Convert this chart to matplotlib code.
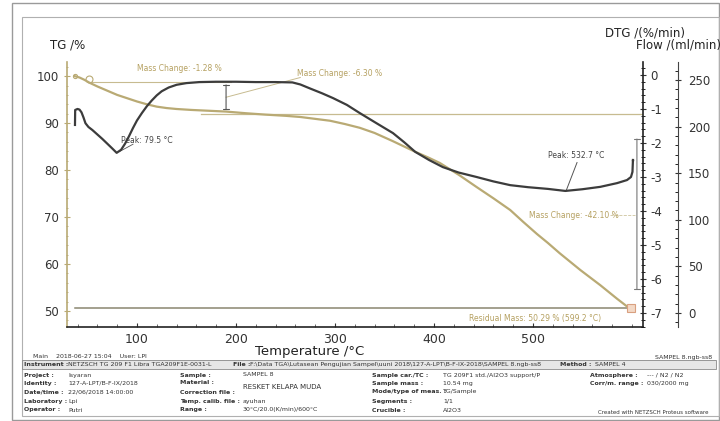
import matplotlib.pyplot as plt
import numpy as np
from matplotlib.patches import Rectangle
from matplotlib.ticker import MultipleLocator

plt.rcParams['font.family'] = ['DejaVu Sans']
plt.rcParams['axes.unicode_minus'] = False

# TG curve (%)
tg_temp = [37, 42, 47, 52, 60, 70, 80, 90, 100, 110, 120, 130, 140, 155, 170, 190,
           210, 230, 250, 265, 280, 295, 310, 325, 340, 358, 370, 381, 395, 406,
           425, 443, 460, 477, 490, 504, 515, 527, 548, 568, 585, 599.2]
tg_mass = [100.0, 99.7, 99.2, 98.6, 97.8, 96.9, 96.0, 95.3, 94.6, 94.0, 93.5, 93.2,
           93.0, 92.8, 92.65, 92.45, 92.1, 91.8, 91.55, 91.3, 90.9, 90.5, 89.8, 89.0,
           87.9, 86.2, 85.0, 83.9, 82.6, 81.5, 79.0, 76.4, 74.0, 71.5, 69.0, 66.4,
           64.5, 62.3, 58.7, 55.5, 52.6, 50.29]

# DTG curve (%/min)
dtg_temp = [37.4, 37.6, 40, 42, 44, 46, 48, 51, 55, 60, 65, 70, 75, 79.5, 84, 88,
            92, 96, 100, 105, 110, 115, 120, 125, 132, 140, 150, 163, 180, 200,
            220, 240, 257, 265, 275, 287, 298, 312, 325, 342, 358.6, 370, 381,
            395, 409, 425, 443, 460, 477, 495, 515, 532.7, 550, 568, 585, 595,
            599, 600.5, 601]
dtg_rate = [-1.47, -1.03, -1.00, -1.02, -1.10, -1.25, -1.42, -1.53, -1.62, -1.75,
            -1.88, -2.02, -2.16, -2.29, -2.20, -2.02, -1.80, -1.56, -1.34, -1.12,
            -0.92, -0.75, -0.60, -0.48, -0.37, -0.29, -0.24, -0.21, -0.20, -0.20,
            -0.21, -0.21, -0.22, -0.28, -0.40, -0.54, -0.68, -0.88, -1.12, -1.42,
            -1.71, -1.98, -2.26, -2.50, -2.71, -2.87, -3.00, -3.13, -3.24, -3.30,
            -3.35, -3.41, -3.36, -3.29, -3.18, -3.09, -3.00, -2.85, -2.50]

tg_ticks = [50, 60, 70, 80, 90, 100]
dtg_ticks = [0, -1, -2, -3, -4, -5, -6, -7]
flow_ticks = [0, 50, 100, 150, 200, 250]
temp_ticks = [100, 200, 300, 400, 500]

mass_steps = [-1.28, -6.30, -42.10]
residual_mass = 50.29
residual_temp = 599.2
peak_temps = [79.5, 532.7]

tan = '#b9aa74'
tan_text = '#b5a060'
dark = '#3c3c3c'

fig = plt.figure(figsize=(7.2, 4.21), dpi=100)
ax = fig.add_axes([0.093, 0.2233, 0.8, 0.6294])
ax2 = ax.twinx()
ax3 = ax.twinx()

ax.set_xlim(29.3, 611.1)
ax.set_ylim(46.6, 103.0)
ax2.set_ylim(-7.41, 0.38)
ax3.set_ylim(-15.0, 269.3)

for a in (ax, ax2, ax3):
    a.spines['top'].set_visible(False)
    a.patch.set_visible(False)
ax.spines['right'].set_visible(False)
ax.spines['left'].set_color(tan)
ax.spines['left'].set_linewidth(1.2)
ax.spines['bottom'].set_color('#222222')
ax.spines['bottom'].set_linewidth(1.2)
ax2.spines['left'].set_visible(False)
ax2.spines['bottom'].set_visible(False)
ax2.spines['right'].set_color('#222222')
ax2.spines['right'].set_linewidth(1.2)
ax3.spines['left'].set_visible(False)
ax3.spines['bottom'].set_visible(False)
ax3.spines['right'].set_position(('axes', 1.061))
ax3.spines['right'].set_color('#444444')

ax.set_xticks(temp_ticks)
ax.xaxis.set_minor_locator(MultipleLocator(20))
ax.set_yticks(tg_ticks)
ax.yaxis.set_minor_locator(MultipleLocator(2))
ax2.set_yticks(dtg_ticks)
ax2.yaxis.set_minor_locator(MultipleLocator(0.2))
ax3.set_yticks(flow_ticks)
ax3.yaxis.set_minor_locator(MultipleLocator(10))

ax.tick_params(axis='x', direction='in', length=3, labelsize=9, pad=4, colors='#333333')
ax.tick_params(axis='x', which='minor', direction='in', length=2, color='#555555')
ax.tick_params(axis='y', direction='inout', length=4, labelsize=8.5, color=tan, labelcolor='#333333')
ax.tick_params(axis='y', which='minor', direction='inout', length=2, color=tan)
ax2.tick_params(axis='y', direction='inout', length=5, labelsize=8.5, pad=3, colors='#333333')
ax2.tick_params(axis='y', which='minor', direction='inout', length=3)
ax3.tick_params(axis='y', direction='inout', length=4, labelsize=8.5, pad=5, colors='#333333')
ax3.tick_params(axis='y', which='minor', direction='in', length=2)

# curves
ax.plot(tg_temp, tg_mass, color=tan, lw=1.6, zorder=3, solid_joinstyle='round')
ax2.plot(dtg_temp, dtg_rate, color=dark, lw=1.6, zorder=4, solid_joinstyle='round')
ax2.plot([600.5, 601], [-2.5, -2.5], color=dark, lw=1.0)

# step construction lines
step1_end = 100.0 + mass_steps[0]
step2_end = step1_end + mass_steps[1]
ax.plot([52, 195], [step1_end, step1_end], color=tan, lw=0.8, alpha=0.8)
ax.plot([165, 611], [step2_end - 0.4, step2_end - 0.4], color=tan, lw=0.9, alpha=0.8)
ax.plot([37, residual_temp], [residual_mass + 0.3, residual_mass + 0.3], color='#8a8670', lw=1.1)
ax.plot([37], [100.0], 'o', ms=3, mfc='white', mec=tan, mew=0.8)
ax.plot([52], [99.3], 'o', ms=5, mfc='white', mec=tan, mew=0.8)
ax.plot([residual_temp], [residual_mass + 0.3], 's', ms=6, mfc='#f3d9c6', mec='#d9a080', mew=0.8, zorder=5)

ax.annotate('', xy=(190, step2_end), xytext=(190, step1_end),
            arrowprops=dict(arrowstyle='|-|, widthA=0.2, widthB=0.2', color='#555555', lw=0.8))
ax.plot([190, 265], [95.5, 99.7], color=tan, lw=0.7, alpha=0.8)
ax.annotate('', xy=(605, 54.0), xytext=(605, 87.2),
            arrowprops=dict(arrowstyle='|-|, widthA=0.2, widthB=0.2', color='#777777', lw=0.8))
ax.plot([578, 603], [70.4, 70.4], color=tan, lw=0.6, ls='--', alpha=0.7)

# labels on the curves
ax.text(143, 101.7, f'Mass Change: {mass_steps[0]:.2f} %', fontsize=5.5, color=tan_text, ha='center', va='center')
ax.text(305, 100.6, f'Mass Change: {mass_steps[1]:.2f} %', fontsize=5.5, color=tan_text, ha='center', va='center')
ax.text(541, 70.4, f'Mass Change: {mass_steps[2]:.2f} %', fontsize=5.5, color=tan_text, ha='center', va='center')
ax.text(502, 48.4, f'Residual Mass: {residual_mass:.2f} % ({residual_temp:.1f} °C)', fontsize=5.5,
        color=tan_text, ha='center', va='center')
ax.text(110, 86.4, f'Peak: {peak_temps[0]:.1f} °C', fontsize=5.5, color='#444444', ha='center', va='center')
ax.plot([96, 82], [85.5, 83.9], color='#555555', lw=0.6)
ax.text(544, 83.2, f'Peak: {peak_temps[1]:.1f} °C', fontsize=5.5, color='#444444', ha='center', va='center')
ax.plot([544.5, 533.5], [81.6, 75.6], color='#555555', lw=0.7)

# axis titles
fig.text(68 / 720, 1 - 45 / 421, 'TG /%', fontsize=8.5, ha='center', va='center', color='#222222')
fig.text(645 / 720, 1 - 33 / 421, 'DTG /(%/min)', fontsize=8.5, ha='center', va='center', color='#222222')
fig.text(678 / 720, 1 - 45 / 421, 'Flow /(ml/min)', fontsize=8.5, ha='center', va='center', color='#222222')
fig.text(310 / 720, 1 - 351 / 421, 'Temperature /°C', fontsize=9.5, ha='center', va='center', color='#222222')

# page frames
def px_rect(x0, y0, x1, y1, **kw):
    fig.patches.append(Rectangle((x0 / 720, 1 - y1 / 421), (x1 - x0) / 720, (y1 - y0) / 421,
                                 transform=fig.transFigure, fill=False, **kw))

px_rect(12, 3, 719, 420, ec='#9a9a9a', lw=1.0)
px_rect(22, 17, 719, 416, ec='#b0b0b0', lw=0.8)
px_rect(22, 360, 716, 369, ec='#888888', lw=0.6)
fig.patches.append(Rectangle((22 / 720, 1 - 369 / 421), 694 / 720, 9 / 421, transform=fig.transFigure,
                             fc='#e6e6e6', ec='none', zorder=0))

def px_text(x, y, s, size=4.5, bold=False, **kw):
    fig.text(x / 720, 1 - y / 421, s, fontsize=size, fontweight='bold' if bold else 'normal',
             va='center', color='#333333', **kw)

px_text(33, 356, 'Main    2018-06-27 15:04    User: LPI')
px_text(655, 357, 'SAMPEL 8.ngb-ss8')
px_text(24, 364.5, 'Instrument :', bold=True)
px_text(68, 364.5, 'NETZSCH TG 209 F1 Libra TGA209F1E-0031-L')
px_text(233, 364.5, 'File :', bold=True)
px_text(250, 364.5, 'F:\\Data TGA\\Lutasean Pengujian Sampel\\uuni 2018\\127-A-LPT\\B-F-IX-2018\\SAMPEL 8.ngb-ss8')
px_text(560, 364.5, 'Method :', bold=True)
px_text(595, 364.5, 'SAMPEL 4')

rows_y = [375, 383, 392, 401, 410]
left_labels = ['Project :', 'Identity :', 'Date/time :', 'Laboratory :', 'Operator :']
left_values = ['Isyaran', '127-A-LPT/B-F-IX/2018', '22/06/2018 14:00:00', 'Lpi', 'Putri']
mid_labels = ['Sample :', 'Material :', 'Correction file :', 'Temp. calib. file :', 'Range :']
mid_values = ['SAMPEL 8', 'RESKET KELAPA MUDA', '', 'ayuhan', '30°C/20.0(K/min)/600°C']
right_labels = ['Sample car./TC :', 'Sample mass :', 'Mode/type of meas. :', 'Segments :', 'Crucible :']
right_values = ['TG 209F1 std./Al2O3 support/P', '10.54 mg', 'TG/Sample', '1/1', 'Al2O3']
for i, y in enumerate(rows_y):
    px_text(24, y, left_labels[i], bold=True)
    px_text(68, y, left_values[i])
    px_text(180, y, mid_labels[i], bold=True)
    px_text(243, y + (4 if i == 1 else 0), mid_values[i], size=5 if i == 1 else 4.5)
    px_text(372, y, right_labels[i], bold=True)
    px_text(443, y, right_values[i])
px_text(590, 375, 'Atmosphere :', bold=True)
px_text(647, 375, '--- / N2 / N2')
px_text(590, 383, 'Corr/m. range :', bold=True)
px_text(647, 383, '030/2000 mg')
px_text(598, 412.5, 'Created with NETZSCH Proteus software', size=4)

fig.savefig('out.png', dpi=100)
